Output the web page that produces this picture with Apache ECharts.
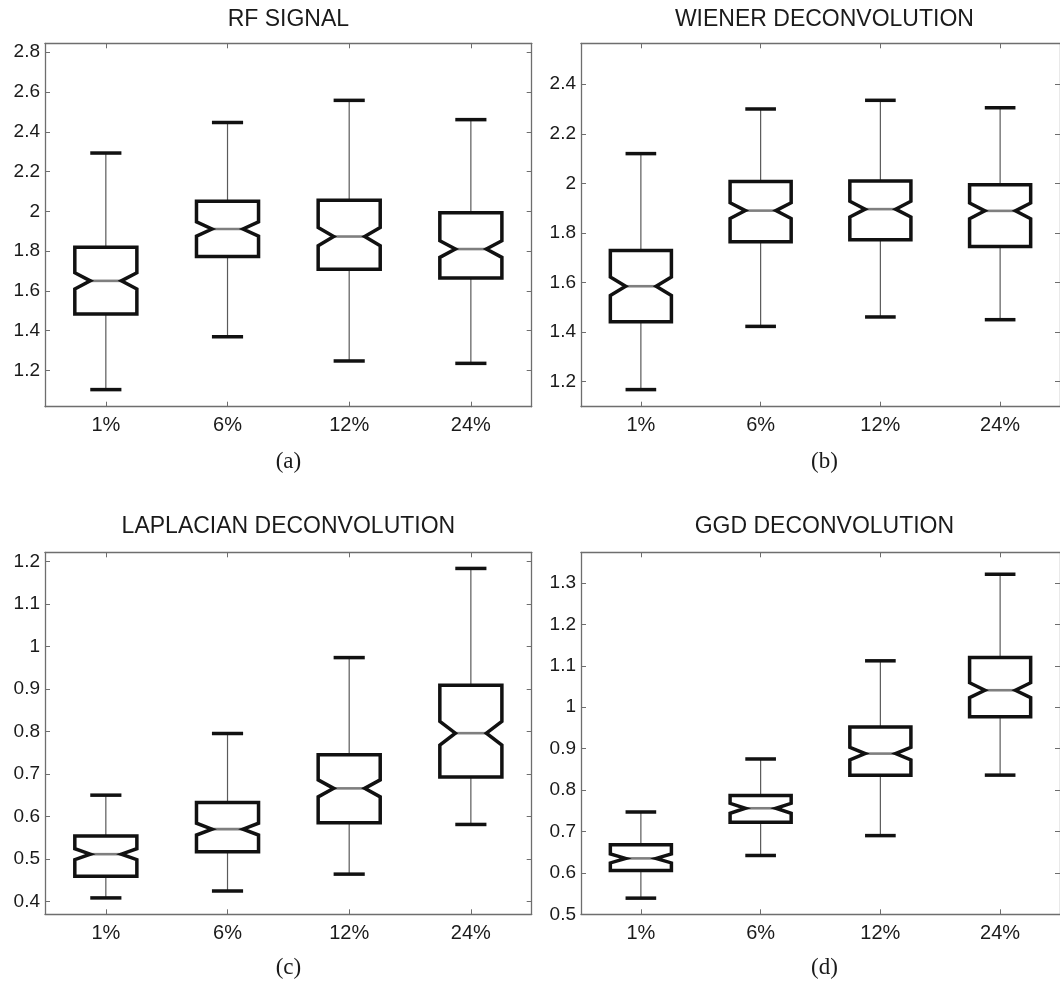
<!DOCTYPE html>
<html>
<head>
<meta charset="utf-8">
<script src="https://cdn.jsdelivr.net/npm/echarts@6/dist/echarts.min.js"></script>
<style>
html,body{margin:0;padding:0;background:#fff;}
#chart{width:1060px;height:981px;}
</style>
</head>
<body>
<div id="chart"></div>
<script>
// ---------- DATA ----------
const categories = ['1%', '6%', '12%', '24%'];

// (a) RF SIGNAL
const rfLow     = [1.103, 1.369, 1.247, 1.235];
const rfQ1      = [1.483, 1.772, 1.708, 1.665];
const rfNotchLo = [1.609, 1.875, 1.827, 1.768];
const rfMed     = [1.650, 1.911, 1.873, 1.810];
const rfNotchHi = [1.691, 1.947, 1.919, 1.852];
const rfQ3      = [1.819, 2.050, 2.055, 1.993];
const rfHigh    = [2.293, 2.446, 2.558, 2.461];

// (b) WIENER DECONVOLUTION
const wiLow     = [1.168, 1.423, 1.461, 1.450];
const wiQ1      = [1.442, 1.764, 1.772, 1.745];
const wiNotchLo = [1.548, 1.858, 1.864, 1.857];
const wiMed     = [1.585, 1.890, 1.896, 1.889];
const wiNotchHi = [1.622, 1.922, 1.928, 1.921];
const wiQ3      = [1.729, 2.007, 2.010, 1.994];
const wiHigh    = [2.120, 2.300, 2.335, 2.305];

// (c) LAPLACIAN DECONVOLUTION
const lpLow     = [0.408, 0.424, 0.464, 0.581];
const lpQ1      = [0.459, 0.517, 0.585, 0.693];
const lpNotchLo = [0.498, 0.556, 0.646, 0.768];
const lpMed     = [0.511, 0.570, 0.666, 0.796];
const lpNotchHi = [0.524, 0.584, 0.686, 0.824];
const lpQ3      = [0.554, 0.633, 0.745, 0.909];
const lpHigh    = [0.650, 0.795, 0.974, 1.184];

// (d) GGD DECONVOLUTION
const ggLow     = [0.539, 0.642, 0.690, 0.836];
const ggQ1      = [0.606, 0.722, 0.836, 0.977];
const ggNotchLo = [0.624, 0.744, 0.873, 1.023];
const ggMed     = [0.635, 0.756, 0.888, 1.041];
const ggNotchHi = [0.646, 0.768, 0.903, 1.059];
const ggQ3      = [0.668, 0.787, 0.952, 1.120];
const ggHigh    = [0.747, 0.875, 1.112, 1.321];

// tick labels
const rfTicks = [1.2, 1.4, 1.6, 1.8, 2, 2.2, 2.4, 2.6, 2.8];
const wiTicks = [1.2, 1.4, 1.6, 1.8, 2, 2.2, 2.4];
const lpTicks = [0.4, 0.5, 0.6, 0.7, 0.8, 0.9, 1, 1.1, 1.2];
const ggTicks = [0.5, 0.6, 0.7, 0.8, 0.9, 1, 1.1, 1.2, 1.3];

// axis ranges
const rfRange = [1.017, 2.845];
const wiRange = [1.099, 2.565];
const lpRange = [0.3694, 1.222];
const ggRange = [0.5, 1.374];

// titles
const titles = ['RF SIGNAL', 'WIENER DECONVOLUTION', 'LAPLACIAN DECONVOLUTION', 'GGD DECONVOLUTION'];
const captions = ['(a)', '(b)', '(c)', '(d)'];

// ---------- LAYOUT ----------
const panels = [
  {grid: {left: 45, top: 43.3, width: 486.7, height: 363.4}, range: rfRange, ticks: rfTicks,
   s: [rfLow, rfQ1, rfNotchLo, rfMed, rfNotchHi, rfQ3, rfHigh], titleY: 20, capY: 462, cx: 288.4},
  {grid: {left: 581, top: 43.3, width: 486.7, height: 363.4}, range: wiRange, ticks: wiTicks,
   s: [wiLow, wiQ1, wiNotchLo, wiMed, wiNotchHi, wiQ3, wiHigh], titleY: 20, capY: 462, cx: 824.4},
  {grid: {left: 45, top: 552.3, width: 486.7, height: 362}, range: lpRange, ticks: lpTicks,
   s: [lpLow, lpQ1, lpNotchLo, lpMed, lpNotchHi, lpQ3, lpHigh], titleY: 527, capY: 968, cx: 288.4},
  {grid: {left: 581, top: 552.3, width: 486.7, height: 362}, range: ggRange, ticks: ggTicks,
   s: [ggLow, ggQ1, ggNotchLo, ggMed, ggNotchHi, ggQ3, ggHigh], titleY: 527, capY: 968, cx: 824.4}
];

const AXIS_COLOR = '#6e6e6e';
const TEXT_COLOR = '#1a1a1a';
const SANS = '"Liberation Sans", Arial, Helvetica, sans-serif';
const SERIF = '"Liberation Serif", "Times New Roman", serif';

function renderBox(params, api) {
  const x = api.value(0);
  const low = api.coord([x, api.value(1)]);
  const q1 = api.coord([x, api.value(2)]);
  const nLo = api.coord([x, api.value(3)]);
  const med = api.coord([x, api.value(4)]);
  const nHi = api.coord([x, api.value(5)]);
  const q3 = api.coord([x, api.value(6)]);
  const high = api.coord([x, api.value(7)]);
  const band = api.size([1, 0])[0];
  const cxp = med[0];
  const half = band * 0.255;
  const inset = half * 0.5;
  const capHalf = band * 0.128;
  const L = cxp - half, R = cxp + half;
  const black = '#111';
  return {
    type: 'group',
    children: [
      {type: 'line', shape: {x1: cxp, y1: high[1], x2: cxp, y2: q3[1]}, style: {stroke: '#5a5a5a', lineWidth: 1.2}},
      {type: 'line', shape: {x1: cxp, y1: q1[1], x2: cxp, y2: low[1]}, style: {stroke: '#5a5a5a', lineWidth: 1.2}},
      {type: 'line', shape: {x1: cxp - capHalf, y1: high[1], x2: cxp + capHalf, y2: high[1]}, style: {stroke: black, lineWidth: 3.5}},
      {type: 'line', shape: {x1: cxp - capHalf, y1: low[1], x2: cxp + capHalf, y2: low[1]}, style: {stroke: black, lineWidth: 3.5}},
      {type: 'line', shape: {x1: L + inset, y1: med[1], x2: R - inset, y2: med[1]}, style: {stroke: '#7f7f7f', lineWidth: 2.6}},
      {type: 'polygon', shape: {points: [
        [L, q3[1]], [R, q3[1]], [R, nHi[1]], [R - inset, med[1]], [R, nLo[1]], [R, q1[1]],
        [L, q1[1]], [L, nLo[1]], [L + inset, med[1]], [L, nHi[1]]
      ]}, style: {fill: 'none', stroke: black, lineWidth: 3.5, lineJoin: 'miter'}}
    ]
  };
}

const grids = [], xAxes = [], yAxes = [], series = [], graphics = [];
panels.forEach((p, i) => {
  grids.push(p.grid);
  xAxes.push({
    type: 'category', gridIndex: i, data: categories, position: 'bottom', boundaryGap: true,
    axisLine: {show: true, lineStyle: {color: AXIS_COLOR, width: 1.3}},
    axisTick: {show: true, inside: true, alignWithLabel: true, length: 5, lineStyle: {color: AXIS_COLOR}},
    axisLabel: {show: true, color: TEXT_COLOR, fontFamily: SANS, fontSize: 20, margin: 9},
    splitLine: {show: false}
  });
  xAxes.push({
    type: 'category', gridIndex: i, data: categories, position: 'top', boundaryGap: true,
    axisLine: {show: true, onZero: false, lineStyle: {color: AXIS_COLOR, width: 1.3}},
    axisTick: {show: true, inside: true, alignWithLabel: true, length: 5, lineStyle: {color: AXIS_COLOR}},
    axisLabel: {show: false}, splitLine: {show: false}
  });
  const yCommon = {
    type: 'value', gridIndex: i, min: p.range[0], max: p.range[1], scale: true,
    splitLine: {show: false}
  };
  yAxes.push(Object.assign({}, yCommon, {
    position: 'left',
    axisLine: {show: true, onZero: false, lineStyle: {color: AXIS_COLOR, width: 1.3}},
    axisTick: {show: true, inside: true, length: 5, customValues: p.ticks, lineStyle: {color: AXIS_COLOR}},
    axisLabel: {show: true, customValues: p.ticks, color: TEXT_COLOR, fontFamily: SANS, fontSize: 19, margin: 5}
  }));
  yAxes.push(Object.assign({}, yCommon, {
    position: 'right',
    axisLine: {show: true, onZero: false, lineStyle: {color: AXIS_COLOR, width: 1.3}},
    axisTick: {show: true, inside: true, length: 5, customValues: p.ticks, lineStyle: {color: AXIS_COLOR}},
    axisLabel: {show: false}
  }));
  const data = categories.map((c, k) => [k, p.s[0][k], p.s[1][k], p.s[2][k], p.s[3][k], p.s[4][k], p.s[5][k], p.s[6][k]]);
  series.push({
    type: 'custom', xAxisIndex: i * 2, yAxisIndex: i * 2,
    renderItem: renderBox, data: data,
    encode: {x: 0, y: [1, 2, 3, 4, 5, 6, 7]},
    silent: true, animation: false, clip: false
  });
  graphics.push({
    type: 'text', x: p.cx, y: p.titleY,
    style: {text: titles[i], fill: TEXT_COLOR, font: '23px ' + SANS, textAlign: 'center', textVerticalAlign: 'middle'}
  });
  graphics.push({
    type: 'text', x: p.cx, y: p.capY,
    style: {text: captions[i], fill: TEXT_COLOR, font: '23px ' + SERIF, textAlign: 'center', textVerticalAlign: 'middle'}
  });
});

const chart = echarts.init(document.getElementById('chart'), null, {renderer: 'canvas'});
chart.setOption({
  backgroundColor: '#ffffff',
  animation: false,
  grid: grids,
  xAxis: xAxes,
  yAxis: yAxes,
  series: series,
  graphic: graphics
});
</script>
</body>
</html>
